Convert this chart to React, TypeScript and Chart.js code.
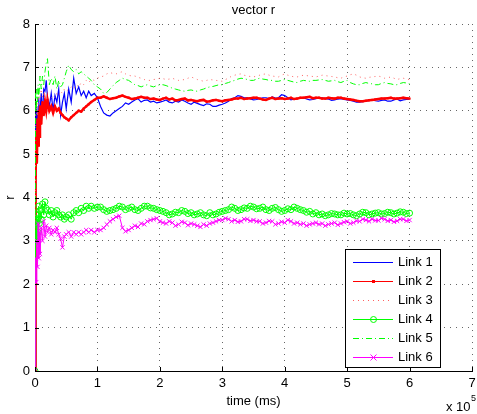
import React, { useEffect, useRef } from "react";
import { Chart, registerables } from "chart.js";

Chart.register(...registerables);

const TITLE = "vector r";
const X_LABEL = "time (ms)";
const Y_LABEL = "r";
const LINK_LABELS = ["Link 1", "Link 2", "Link 3", "Link 4", "Link 5", "Link 6"];
const X_TICK_STEP = 100000;
const Y_TICK_STEP = 1;

const TIME_MS = [
  0, 1000, 2000, 3000, 4000, 5000, 6000, 7000, 8000,
  10000, 12000, 14000, 16000, 18000, 20000,
  23000, 26000, 29000, 32000, 35000, 38000, 41000, 44000, 47000, 50000,
  54000, 58000, 62000, 66000, 70000, 74000, 78000, 82000, 86000, 90000,
  95000, 100000,
  105000, 110000, 115000, 120000, 125000, 130000, 135000, 140000, 145000, 150000,
  155000, 160000, 165000, 170000, 175000, 180000, 185000, 190000, 195000, 200000,
  205000, 210000, 215000, 220000, 225000, 230000, 235000, 240000, 245000, 250000,
  255000, 260000, 265000, 270000, 275000, 280000, 285000, 290000, 295000, 300000,
  305000, 310000, 315000, 320000, 325000, 330000, 335000, 340000, 345000, 350000,
  355000, 360000, 365000, 370000, 375000, 380000, 385000, 390000, 395000, 400000,
  405000, 410000, 415000, 420000, 425000, 430000, 435000, 440000, 445000, 450000,
  455000, 460000, 465000, 470000, 475000, 480000, 485000, 490000, 495000, 500000,
  505000, 510000, 515000, 520000, 525000, 530000, 535000, 540000, 545000, 550000,
  555000, 560000, 565000, 570000, 575000, 580000, 585000, 590000, 595000, 600000,
];

const LINK1 = [
  0, 5.6, 6.1, 5.3, 5.9, 5.5, 6.3, 5.7, 6.0,
  6.4, 5.9, 6.5, 6.45, 6.7, 6.3,
  6.1, 6.4, 6.0, 6.35, 6.2, 6.5, 5.9, 6.2, 6.4, 6.05,
  6.5, 6.2, 6.75, 6.4, 6.55, 6.35, 6.45, 6.3, 6.45, 6.35,
  6.4, 6.3,
  6.1, 5.95, 5.9, 5.88, 5.95, 6.0, 6.05, 6.1, 6.18, 6.15,
  6.2, 6.25, 6.28, 6.2, 6.24, 6.25, 6.2, 6.22, 6.18, 6.2,
  6.22, 6.25, 6.2, 6.18, 6.22, 6.2, 6.25, 6.22, 6.18, 6.15,
  6.2, 6.17, 6.14, 6.12, 6.16, 6.15, 6.1, 6.1, 6.13, 6.15,
  6.18, 6.22, 6.28, 6.3, 6.35, 6.33, 6.3, 6.3, 6.27, 6.25,
  6.26, 6.28, 6.3, 6.3, 6.28, 6.32, 6.29, 6.3, 6.37, 6.35,
  6.3, 6.25, 6.27, 6.28, 6.3, 6.3, 6.27, 6.25, 6.26, 6.28,
  6.3, 6.3, 6.28, 6.27, 6.24, 6.25, 6.27, 6.28, 6.26, 6.25,
  6.24, 6.22, 6.2, 6.2, 6.21, 6.22, 6.24, 6.25, 6.23, 6.22,
  6.24, 6.25, 6.22, 6.22, 6.25, 6.27, 6.23, 6.25, 6.26, 6.27,
];

const LINK2 = [
  0, 4.5, 5.5, 4.8, 5.8, 5.2, 6.0, 5.4, 6.1,
  5.7, 6.2, 5.9, 6.2, 6.0, 6.25,
  6.0, 6.1, 5.95, 6.1, 6.0, 6.05, 5.95, 5.9, 5.85, 5.82,
  5.78, 5.85, 5.9, 5.95, 6.0, 5.98, 6.05, 6.1, 6.15, 6.2,
  6.25, 6.3,
  6.3, 6.33, 6.3, 6.27, 6.29, 6.3, 6.33, 6.35, 6.32, 6.3,
  6.27, 6.28, 6.3, 6.32, 6.3, 6.3, 6.27, 6.28, 6.26, 6.25,
  6.28, 6.3, 6.26, 6.28, 6.24, 6.25, 6.27, 6.28, 6.24, 6.25,
  6.23, 6.22, 6.24, 6.25, 6.21, 6.22, 6.24, 6.25, 6.23, 6.22,
  6.24, 6.25, 6.26, 6.28, 6.28, 6.3, 6.27, 6.28, 6.29, 6.3,
  6.3, 6.28, 6.26, 6.25, 6.28, 6.3, 6.27, 6.28, 6.29, 6.27,
  6.28, 6.3, 6.27, 6.28, 6.3, 6.3, 6.31, 6.32, 6.29, 6.3,
  6.3, 6.28, 6.28, 6.3, 6.29, 6.28, 6.3, 6.3, 6.28, 6.27,
  6.26, 6.25, 6.23, 6.22, 6.22, 6.23, 6.24, 6.25, 6.26, 6.27,
  6.28, 6.28, 6.29, 6.3, 6.28, 6.28, 6.29, 6.3, 6.29, 6.28,
];

const LINK3 = [
  0, 5.8, 6.2, 5.9, 6.3, 6.1, 6.4, 6.2, 6.3,
  6.5, 6.3, 6.4, 6.25, 6.35, 6.3,
  6.25, 6.3, 6.35, 6.3, 6.4, 6.35, 6.45, 6.4, 6.5, 6.45,
  6.5, 6.55, 6.5, 6.6, 6.55, 6.65, 6.6, 6.7, 6.65, 6.72,
  6.7, 6.75,
  6.78, 6.8, 6.85, 6.88, 6.86, 6.85, 6.88, 6.9, 6.85, 6.82,
  6.8, 6.8, 6.77, 6.75, 6.72, 6.7, 6.7, 6.72, 6.73, 6.75,
  6.74, 6.72, 6.73, 6.75, 6.72, 6.7, 6.71, 6.72, 6.75, 6.78,
  6.75, 6.72, 6.7, 6.68, 6.7, 6.72, 6.71, 6.7, 6.69, 6.68,
  6.72, 6.75, 6.8, 6.82, 6.84, 6.85, 6.82, 6.8, 6.79, 6.78,
  6.8, 6.82, 6.84, 6.85, 6.82, 6.8, 6.79, 6.78, 6.82, 6.85,
  6.82, 6.8, 6.78, 6.78, 6.8, 6.82, 6.81, 6.8, 6.79, 6.78,
  6.8, 6.82, 6.81, 6.8, 6.79, 6.78, 6.76, 6.75, 6.78, 6.8,
  6.83, 6.85, 6.82, 6.78, 6.76, 6.75, 6.77, 6.78, 6.79, 6.8,
  6.78, 6.75, 6.76, 6.78, 6.75, 6.72, 6.74, 6.75, 6.73, 6.72,
];

const LINK4 = [
  0, 3.0, 3.6, 2.9, 3.5, 3.2, 3.8, 3.4, 3.7,
  3.5, 3.85, 3.6, 3.9, 3.75, 3.7,
  3.6, 3.7, 3.55, 3.65, 3.7, 3.6, 3.55, 3.6, 3.5, 3.55,
  3.6, 3.5, 3.65, 3.7, 3.65, 3.75, 3.7, 3.8, 3.75, 3.8,
  3.75, 3.78,
  3.78, 3.72, 3.68, 3.7, 3.72, 3.75, 3.8, 3.78, 3.72, 3.75,
  3.78, 3.72, 3.7, 3.75, 3.8, 3.8, 3.76, 3.75, 3.72, 3.7,
  3.68, 3.65, 3.6, 3.62, 3.66, 3.65, 3.7, 3.68, 3.63, 3.65,
  3.6, 3.62, 3.65, 3.6, 3.58, 3.65, 3.6, 3.62, 3.66, 3.68,
  3.7, 3.72, 3.78, 3.75, 3.7, 3.72, 3.76, 3.75, 3.8, 3.78,
  3.74, 3.75, 3.78, 3.72, 3.7, 3.75, 3.77, 3.72, 3.68, 3.7,
  3.74, 3.72, 3.78, 3.75, 3.72, 3.7, 3.66, 3.68, 3.62, 3.65,
  3.6, 3.62, 3.58, 3.6, 3.63, 3.62, 3.6, 3.6, 3.64, 3.62,
  3.63, 3.6, 3.58, 3.62, 3.66, 3.65, 3.6, 3.62, 3.64, 3.65,
  3.62, 3.63, 3.66, 3.65, 3.62, 3.64, 3.67, 3.66, 3.63, 3.64,
];

const LINK5 = [
  0, 6.4, 6.0, 6.5, 6.2, 6.6, 6.3, 6.5, 6.8,
  6.5, 6.8, 6.6, 6.9, 7.1, 7.2,
  6.6, 6.75, 6.6, 6.8, 6.5, 6.7, 6.55, 6.6, 6.75, 6.9,
  7.05, 6.95, 6.9, 6.95, 6.85, 6.9, 6.85, 6.8, 6.75, 6.7,
  6.6, 6.55,
  6.5, 6.4, 6.42, 6.5, 6.58, 6.65, 6.7, 6.75, 6.72, 6.7,
  6.65, 6.6, 6.58, 6.55, 6.58, 6.6, 6.57, 6.55, 6.58, 6.6,
  6.6, 6.58, 6.55, 6.52, 6.5, 6.48, 6.46, 6.45, 6.47, 6.48,
  6.46, 6.45, 6.48, 6.5, 6.53, 6.55, 6.56, 6.58, 6.6, 6.6,
  6.63, 6.65, 6.68, 6.7, 6.73, 6.75, 6.74, 6.72, 6.7, 6.7,
  6.73, 6.75, 6.73, 6.72, 6.7, 6.7, 6.68, 6.68, 6.7, 6.72,
  6.7, 6.68, 6.66, 6.65, 6.68, 6.7, 6.69, 6.68, 6.7, 6.7,
  6.71, 6.72, 6.7, 6.68, 6.69, 6.7, 6.67, 6.65, 6.68, 6.7,
  6.65, 6.62, 6.6, 6.6, 6.63, 6.65, 6.63, 6.62, 6.6, 6.6,
  6.63, 6.65, 6.63, 6.62, 6.6, 6.6, 6.63, 6.65, 6.64, 6.62,
];

const LINK6 = [
  0, 2.6, 2.05, 3.0, 2.4, 3.4, 2.6, 3.2, 2.7,
  3.3, 3.0, 3.45, 3.1, 3.35, 3.2,
  3.3, 3.15, 3.25, 3.2, 3.3, 3.15, 3.05, 2.85, 3.1, 3.15,
  3.2, 3.1, 3.2, 3.15, 3.2, 3.15, 3.2, 3.25, 3.2, 3.25,
  3.2, 3.25,
  3.25, 3.3, 3.38, 3.45, 3.5, 3.55, 3.58, 3.3, 3.22, 3.25,
  3.3, 3.35, 3.32, 3.4, 3.38, 3.45, 3.48, 3.5, 3.52, 3.45,
  3.42, 3.4, 3.45, 3.42, 3.35, 3.38, 3.44, 3.42, 3.36, 3.4,
  3.38, 3.35, 3.32, 3.38, 3.35, 3.4, 3.42, 3.45, 3.48, 3.48,
  3.52, 3.5, 3.45, 3.48, 3.44, 3.45, 3.5, 3.5, 3.46, 3.48,
  3.45, 3.45, 3.4, 3.42, 3.46, 3.45, 3.38, 3.4, 3.44, 3.42,
  3.48, 3.45, 3.4, 3.42, 3.38, 3.4, 3.35, 3.38, 3.4, 3.42,
  3.38, 3.4, 3.35, 3.38, 3.4, 3.42, 3.37, 3.4, 3.43, 3.45,
  3.4, 3.42, 3.46, 3.45, 3.5, 3.48, 3.45, 3.5, 3.47, 3.47,
  3.52, 3.5, 3.46, 3.48, 3.44, 3.46, 3.5, 3.5, 3.46, 3.48,
];

const FONT = "'Liberation Sans', Arial, Helvetica, sans-serif";

function pts(vals: number[]) {
  return TIME_MS.map((t, i) => ({ x: t, y: vals[i] }));
}

const decorPlugin = {
  id: "matlabDecor",
  afterDraw(chart: any) {
    const { ctx, chartArea } = chart;
    const xs = chart.scales.x;
    const ys = chart.scales.y;
    ctx.save();
    ctx.strokeStyle = "#000";
    ctx.lineWidth = 1;
    ctx.setLineDash([]);
    ys.ticks.forEach((t: any) => {
      const y = Math.round(ys.getPixelForValue(t.value)) + 0.5;
      ctx.beginPath();
      ctx.moveTo(chartArea.left, y);
      ctx.lineTo(chartArea.left + 4, y);
      ctx.stroke();
    });
    xs.ticks.forEach((t: any) => {
      const x = Math.round(xs.getPixelForValue(t.value)) + 0.5;
      ctx.beginPath();
      ctx.moveTo(x, chartArea.bottom);
      ctx.lineTo(x, chartArea.bottom - 4);
      ctx.stroke();
    });

    ctx.fillStyle = "#000";
    ctx.font = `13px ${FONT}`;
    ctx.textAlign = "center";
    ctx.textBaseline = "middle";
    ctx.fillText(TITLE, (chartArea.left + chartArea.right) / 2, 10);

    ctx.textAlign = "left";
    ctx.fillText("x 10", 446, 407);
    ctx.font = `9px ${FONT}`;
    ctx.fillText("5", 471, 399);

    const lx = 345, ly = 249, lw = 95, lh = 118;
    ctx.fillStyle = "#fff";
    ctx.fillRect(lx, ly, lw, lh);
    ctx.strokeStyle = "#000";
    ctx.lineWidth = 1;
    ctx.strokeRect(lx + 0.5, ly + 0.5, lw, lh);
    ctx.font = `13px ${FONT}`;
    ctx.textBaseline = "middle";
    chart.data.datasets.forEach((ds: any, i: number) => {
      const y = Math.round(ly + 13 + i * 19) + 0.5;
      ctx.strokeStyle = ds.borderColor;
      ctx.lineWidth = 1;
      ctx.setLineDash(ds.borderDash || []);
      ctx.beginPath();
      ctx.moveTo(353, y);
      ctx.lineTo(393, y);
      ctx.stroke();
      ctx.setLineDash([]);
      const mx = 373.5;
      if (ds.pointRadius > 0) {
        if (ds.pointStyle === "circle") {
          ctx.beginPath();
          ctx.arc(mx, y, 3, 0, Math.PI * 2);
          ctx.stroke();
        } else if (ds.pointStyle === "crossRot") {
          ctx.beginPath();
          ctx.moveTo(mx - 3, y - 3);
          ctx.lineTo(mx + 3, y + 3);
          ctx.moveTo(mx + 3, y - 3);
          ctx.lineTo(mx - 3, y + 3);
          ctx.stroke();
        } else {
          ctx.fillStyle = ds.borderColor;
          ctx.fillRect(mx - 1.5, y - 1.5, 3, 3);
        }
      }
      ctx.fillStyle = "#000";
      ctx.textAlign = "left";
      ctx.fillText(ds.label, 398, y);
    });
    ctx.restore();
  },
};

export default function App() {
  const ref = useRef<HTMLCanvasElement>(null);
  useEffect(() => {
    Chart.defaults.font.family = FONT;
    const gridCommon = {
      color: "rgba(0,0,0,0.6)",
      lineWidth: 1,
      drawTicks: false,
    };
    const chart = new Chart(ref.current as HTMLCanvasElement, {
      type: "line",
      data: {
        datasets: [
          {
            label: LINK_LABELS[0],
            data: pts(LINK1),
            borderColor: "#0000ff",
            borderWidth: 1.2,
            pointRadius: 0,
            order: 6,
          },
          {
            label: LINK_LABELS[1],
            data: pts(LINK2),
            borderColor: "#ff0000",
            backgroundColor: "#ff0000",
            borderWidth: 2.5,
            pointRadius: 1.5,
            pointStyle: "rect",
            pointBorderWidth: 0,
            order: 5,
          },
          {
            label: LINK_LABELS[2],
            data: pts(LINK3),
            borderColor: "#ff6060",
            borderWidth: 1,
            borderDash: [1, 4],
            pointRadius: 0,
            order: 4,
          },
          {
            label: LINK_LABELS[3],
            data: pts(LINK4),
            borderColor: "#00ff00",
            backgroundColor: "rgba(0,0,0,0)",
            borderWidth: 1,
            pointRadius: 3,
            pointStyle: "circle",
            pointBorderWidth: 1,
            order: 3,
          },
          {
            label: LINK_LABELS[4],
            data: pts(LINK5),
            borderColor: "#00ff00",
            borderWidth: 1,
            borderDash: [6, 3, 1, 3],
            pointRadius: 0,
            order: 2,
          },
          {
            label: LINK_LABELS[5],
            data: pts(LINK6),
            borderColor: "#ff00ff",
            backgroundColor: "#ff00ff",
            borderWidth: 1,
            pointRadius: 3,
            pointStyle: "crossRot",
            pointBorderWidth: 1,
            order: 1,
          },
        ] as any,
      },
      options: {
        animation: false,
        responsive: false,
        devicePixelRatio: 1,
        layout: { padding: { top: 24, right: 2, left: 0, bottom: 0 } },
        plugins: {
          legend: { display: false },
          tooltip: { enabled: false },
          title: { display: false },
        },
        elements: { line: { tension: 0 } },
        scales: {
          x: {
            type: "linear",
            min: 0,
            max: 700000,
            ticks: {
              stepSize: X_TICK_STEP,
              color: "#000",
              font: { size: 13, family: FONT },
              padding: 5,
              maxRotation: 0,
              callback: (v: any) => String(Number(v) / 100000),
            },
            grid: gridCommon,
            border: { display: true, color: "#000", width: 1, dash: [1, 5] },
            title: {
              display: true,
              text: X_LABEL,
              color: "#000",
              font: { size: 13, family: FONT },
              padding: { top: 0, bottom: 5 },
            },
            afterFit: (s: any) => {
              s.height = 43;
              s.paddingLeft = 0;
              s.paddingRight = 0;
            },
          },
          y: {
            type: "linear",
            min: 0,
            max: 8,
            ticks: {
              stepSize: Y_TICK_STEP,
              color: "#000",
              font: { size: 13, family: FONT },
              padding: 5,
            },
            grid: gridCommon,
            border: { display: true, color: "#000", width: 1, dash: [1, 5] },
            title: {
              display: true,
              text: Y_LABEL,
              color: "#000",
              font: { size: 13, family: FONT },
              padding: { top: 3, bottom: 0 },
            },
            afterFit: (s: any) => {
              s.width = 35;
              s.paddingTop = 0;
              s.paddingBottom = 0;
            },
          },
        },
      } as any,
      plugins: [decorPlugin],
    });
    return () => chart.destroy();
  }, []);
  return (
    <div style={{ position: "fixed", left: 0, top: 0, width: 477, height: 414, background: "#fff" }}>
      <canvas ref={ref} width={477} height={414} style={{ display: "block", width: 477, height: 414 }} />
    </div>
  );
}
